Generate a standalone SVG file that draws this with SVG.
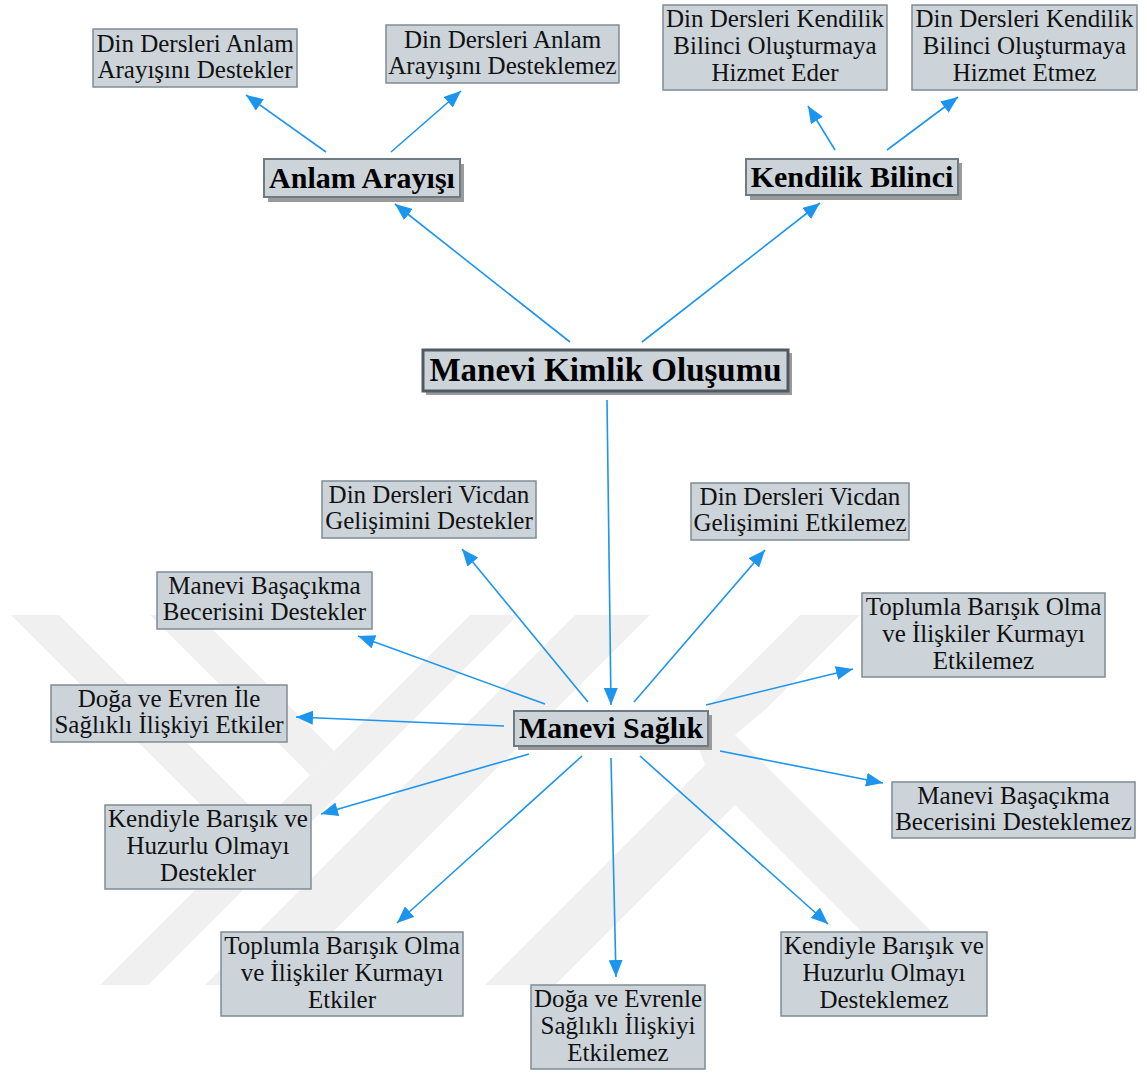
<svg xmlns="http://www.w3.org/2000/svg" width="1147" height="1075" viewBox="0 0 1147 1075">
  <defs>
    <style>
      .box { fill: #ccd4da; stroke: #7f8c94; stroke-width: 1.5; }
      .main { fill: #ccd4da; stroke: #6f7b83; stroke-width: 2; }
      .core { fill: #ccd4da; stroke: #4f5a61; stroke-width: 3; }
      .shadow { fill: #9a9a9a; }
      .t { font-family: "Liberation Serif", "Times New Roman", serif; font-size: 25px; fill: #111; text-anchor: middle; }
      .tb { font-family: "Liberation Serif", "Times New Roman", serif; font-size: 30px; font-weight: bold; fill: #000; text-anchor: middle; }
      .tc { font-family: "Liberation Serif", "Times New Roman", serif; font-size: 33px; font-weight: bold; fill: #000; text-anchor: middle; }
      .link { stroke: #1b95ee; stroke-width: 1.6; fill: none; marker-end: url(#head); }
      .wm { fill: #f0f0f0; }
    </style>
    <marker id="head" markerUnits="userSpaceOnUse" markerWidth="18" markerHeight="14" refX="17" refY="7" orient="auto">
      <path d="M0,0 L17,7 L0,14 z" fill="#1b95ee"/>
    </marker>
  </defs>

  <rect width="1147" height="1075" fill="#ffffff"/>

  <!-- faint background emblem -->
  <g id="emblem">
    <polygon class="wm" points="11,615 59,615 284,840 260,864"/>
    <polygon class="wm" points="150,615 198,615 334,751 310,775"/>
    <polygon class="wm" points="470,615 518,615 148,985 100,985"/>
    <polygon class="wm" points="575,615 650,615 280,985 205,985"/>
    <polygon class="wm" points="735,735 985,985 915,985 735,805 555,985 485,985"/>
    <polygon class="wm" points="800,615 860,615 765,710 735,735 705,765 690,725"/>
  </g>

  <!-- connectors -->
  <g id="connectors">
    <line class="link" x1="570" y1="342" x2="395" y2="204"/>
    <line class="link" x1="642" y1="342" x2="820" y2="203"/>
    <line class="link" x1="326" y1="152" x2="246" y2="95"/>
    <line class="link" x1="391" y1="152" x2="461" y2="91"/>
    <line class="link" x1="835" y1="150" x2="808" y2="106"/>
    <line class="link" x1="887" y1="150" x2="958" y2="97"/>
    <line class="link" x1="607" y1="400" x2="611" y2="705"/>
    <line class="link" x1="588" y1="702" x2="462" y2="549"/>
    <line class="link" x1="634" y1="702" x2="765" y2="550"/>
    <line class="link" x1="545" y1="704" x2="358" y2="636"/>
    <line class="link" x1="706" y1="705" x2="853" y2="669"/>
    <line class="link" x1="504" y1="726" x2="296" y2="717"/>
    <line class="link" x1="720" y1="751" x2="883" y2="783"/>
    <line class="link" x1="529" y1="754" x2="321" y2="814"/>
    <line class="link" x1="582" y1="756" x2="397" y2="923"/>
    <line class="link" x1="611" y1="758" x2="616" y2="977"/>
    <line class="link" x1="640" y1="756" x2="828" y2="924"/>
  </g>

  <g id="n-anlam-destekler">
    <rect class="box" x="93" y="29" width="204" height="58"/>
    <text class="t"><tspan x="195" y="52">Din Dersleri Anlam</tspan><tspan x="195" y="78">Arayışını Destekler</tspan></text>
  </g>
  <g id="n-anlam-desteklemez">
    <rect class="box" x="386" y="25" width="233" height="58"/>
    <text class="t"><tspan x="502.5" y="48">Din Dersleri Anlam</tspan><tspan x="502.5" y="74">Arayışını Desteklemez</tspan></text>
  </g>
  <g id="n-kendilik-eder">
    <rect class="box" x="663" y="5" width="224" height="85"/>
    <text class="t"><tspan x="775" y="27">Din Dersleri Kendilik</tspan><tspan x="775" y="54">Bilinci Oluşturmaya</tspan><tspan x="775" y="81">Hizmet Eder</tspan></text>
  </g>
  <g id="n-kendilik-etmez">
    <rect class="box" x="912" y="5" width="225" height="85"/>
    <text class="t"><tspan x="1024.5" y="27">Din Dersleri Kendilik</tspan><tspan x="1024.5" y="54">Bilinci Oluşturmaya</tspan><tspan x="1024.5" y="81">Hizmet Etmez</tspan></text>
  </g>

  <g id="n-anlam-arayisi">
    <rect class="shadow" x="268" y="164" width="196" height="38"/>
    <rect class="main" x="264" y="159" width="196" height="38"/>
    <text class="tb" x="362" y="188">Anlam Arayışı</text>
  </g>
  <g id="n-kendilik-bilinci">
    <rect class="shadow" x="750" y="163" width="212" height="37"/>
    <rect class="main" x="746" y="159" width="212" height="36"/>
    <text class="tb" x="852" y="187">Kendilik Bilinci</text>
  </g>
  <g id="n-manevi-kimlik">
    <rect class="shadow" x="426" y="353" width="366" height="42"/>
    <rect class="core" x="423" y="350" width="365" height="41"/>
    <text class="tc" x="605.5" y="381">Manevi Kimlik Oluşumu</text>
  </g>

  <g id="n-vicdan-destekler">
    <rect class="box" x="322" y="481" width="214" height="57"/>
    <text class="t"><tspan x="429" y="503">Din Dersleri Vicdan</tspan><tspan x="429" y="529">Gelişimini Destekler</tspan></text>
  </g>
  <g id="n-vicdan-etkilemez">
    <rect class="box" x="691" y="483" width="218" height="57"/>
    <text class="t"><tspan x="800" y="505">Din Dersleri Vicdan</tspan><tspan x="800" y="531">Gelişimini Etkilemez</tspan></text>
  </g>
  <g id="n-basacikma-destekler">
    <rect class="box" x="157" y="572" width="215" height="57"/>
    <text class="t"><tspan x="264.5" y="594">Manevi Başaçıkma</tspan><tspan x="264.5" y="620">Becerisini Destekler</tspan></text>
  </g>
  <g id="n-toplum-etkilemez">
    <rect class="box" x="862" y="593" width="243" height="84"/>
    <text class="t"><tspan x="983.5" y="615">Toplumla Barışık Olma</tspan><tspan x="983.5" y="642">ve İlişkiler Kurmayı</tspan><tspan x="983.5" y="669">Etkilemez</tspan></text>
  </g>
  <g id="n-doga-etkiler">
    <rect class="box" x="51" y="685" width="236" height="57"/>
    <text class="t"><tspan x="169" y="707">Doğa ve Evren İle</tspan><tspan x="169" y="733">Sağlıklı İlişkiyi Etkiler</tspan></text>
  </g>

  <g id="n-manevi-saglik">
    <rect class="shadow" x="518" y="715" width="194" height="35"/>
    <rect class="main" x="514" y="711" width="194" height="35"/>
    <text class="tb" x="611" y="738">Manevi Sağlık</text>
  </g>

  <g id="n-basacikma-desteklemez">
    <rect class="box" x="892" y="782" width="243" height="56"/>
    <text class="t"><tspan x="1013.5" y="804">Manevi Başaçıkma</tspan><tspan x="1013.5" y="830">Becerisini Desteklemez</tspan></text>
  </g>
  <g id="n-kendiyle-destekler">
    <rect class="box" x="105" y="805" width="206" height="84"/>
    <text class="t"><tspan x="208" y="827">Kendiyle Barışık ve</tspan><tspan x="208" y="854">Huzurlu Olmayı</tspan><tspan x="208" y="881">Destekler</tspan></text>
  </g>
  <g id="n-toplum-etkiler">
    <rect class="box" x="221" y="932" width="242" height="84"/>
    <text class="t"><tspan x="342" y="954">Toplumla Barışık Olma</tspan><tspan x="342" y="981">ve İlişkiler Kurmayı</tspan><tspan x="342" y="1008">Etkiler</tspan></text>
  </g>
  <g id="n-doga-etkilemez">
    <rect class="box" x="531" y="985" width="174" height="84"/>
    <text class="t"><tspan x="618" y="1007">Doğa ve Evrenle</tspan><tspan x="618" y="1034">Sağlıklı İlişkiyi</tspan><tspan x="618" y="1061">Etkilemez</tspan></text>
  </g>
  <g id="n-kendiyle-desteklemez">
    <rect class="box" x="781" y="932" width="206" height="84"/>
    <text class="t"><tspan x="884" y="954">Kendiyle Barışık ve</tspan><tspan x="884" y="981">Huzurlu Olmayı</tspan><tspan x="884" y="1008">Desteklemez</tspan></text>
  </g>
</svg>
